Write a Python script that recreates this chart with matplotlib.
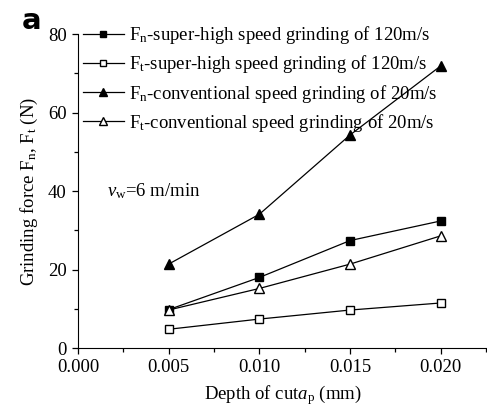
import matplotlib
matplotlib.use("Agg")
import matplotlib.pyplot as plt
from matplotlib.ticker import MultipleLocator, FormatStrFormatter

plt.rcParams['font.family'] = ['Liberation Serif', 'DejaVu Serif']
plt.rcParams['mathtext.fontset'] = 'custom'
plt.rcParams['mathtext.rm'] = 'Liberation Serif'
plt.rcParams['mathtext.it'] = 'Liberation Serif:italic'

depth = [0.005, 0.010, 0.015, 0.020]
fn_high = [9.8, 18.0, 27.4, 32.4]
ft_high = [4.8, 7.4, 9.7, 11.5]
fn_conv = [21.4, 34.1, 54.3, 71.9]
ft_conv = [9.7, 15.2, 21.4, 28.6]
labels = [
    r"F$_\mathrm{n}$-super-high speed grinding of 120m/s",
    r"F$_\mathrm{t}$-super-high speed grinding of 120m/s",
    r"F$_\mathrm{n}$-conventional speed grinding of 20m/s",
    r"F$_\mathrm{t}$-conventional speed grinding of 20m/s",
]

fig = plt.figure(figsize=(4.87, 4.11), dpi=100)
ax = fig.add_axes([0.160, 0.153, 0.840, 0.764])

ax.plot(depth, fn_high, '-', color='black', lw=0.9, marker='s', ms=6, mfc='black', mec='black', label=labels[0])
ax.plot(depth, ft_high, '-', color='black', lw=0.9, marker='s', ms=6, mfc='white', mec='black', label=labels[1])
ax.plot(depth, fn_conv, '-', color='black', lw=0.9, marker='^', ms=7.5, mfc='black', mec='black', label=labels[2])
ax.plot(depth, ft_conv, '-', color='black', lw=0.9, marker='^', ms=7.5, mfc='white', mec='black', label=labels[3])

ax.set_xlim(0, 0.02255)
ax.set_ylim(0, 80)
ax.spines['top'].set_visible(False)
ax.spines['right'].set_visible(False)
ax.xaxis.set_major_locator(MultipleLocator(0.005))
ax.xaxis.set_minor_locator(MultipleLocator(0.0025))
ax.xaxis.set_major_formatter(FormatStrFormatter('%.3f'))
ax.yaxis.set_major_locator(MultipleLocator(20))
ax.yaxis.set_minor_locator(MultipleLocator(10))
ax.tick_params(which='major', direction='out', length=4.5, width=0.9, labelsize=13.5, colors='black')
ax.tick_params(which='minor', direction='out', length=3, width=0.9)

ax.set_xlabel(r"Depth of cut$\mathit{a}_\mathrm{p}$ (mm)", fontsize=13.5, labelpad=5)
ax.set_ylabel(r"Grinding force F$_\mathrm{n}$, F$_\mathrm{t}$ (N)", fontsize=13.5, labelpad=6)

ax.text(0.0016, 40, r"$\mathit{v}_\mathrm{w}$=6 m/min", fontsize=13.5, va='center', ha='left')

leg = ax.legend(loc='upper left', bbox_to_anchor=(-0.016, 1.067), frameon=False, fontsize=13.5,
                handlelength=2.2, handletextpad=0.3, labelspacing=0.38, borderaxespad=0.2,
                markerscale=0.8)

fig.text(0.045, 0.95, 'a', fontsize=21, fontweight='bold', family='DejaVu Sans', va='center', ha='left')

fig.savefig('out.png', dpi=100)
